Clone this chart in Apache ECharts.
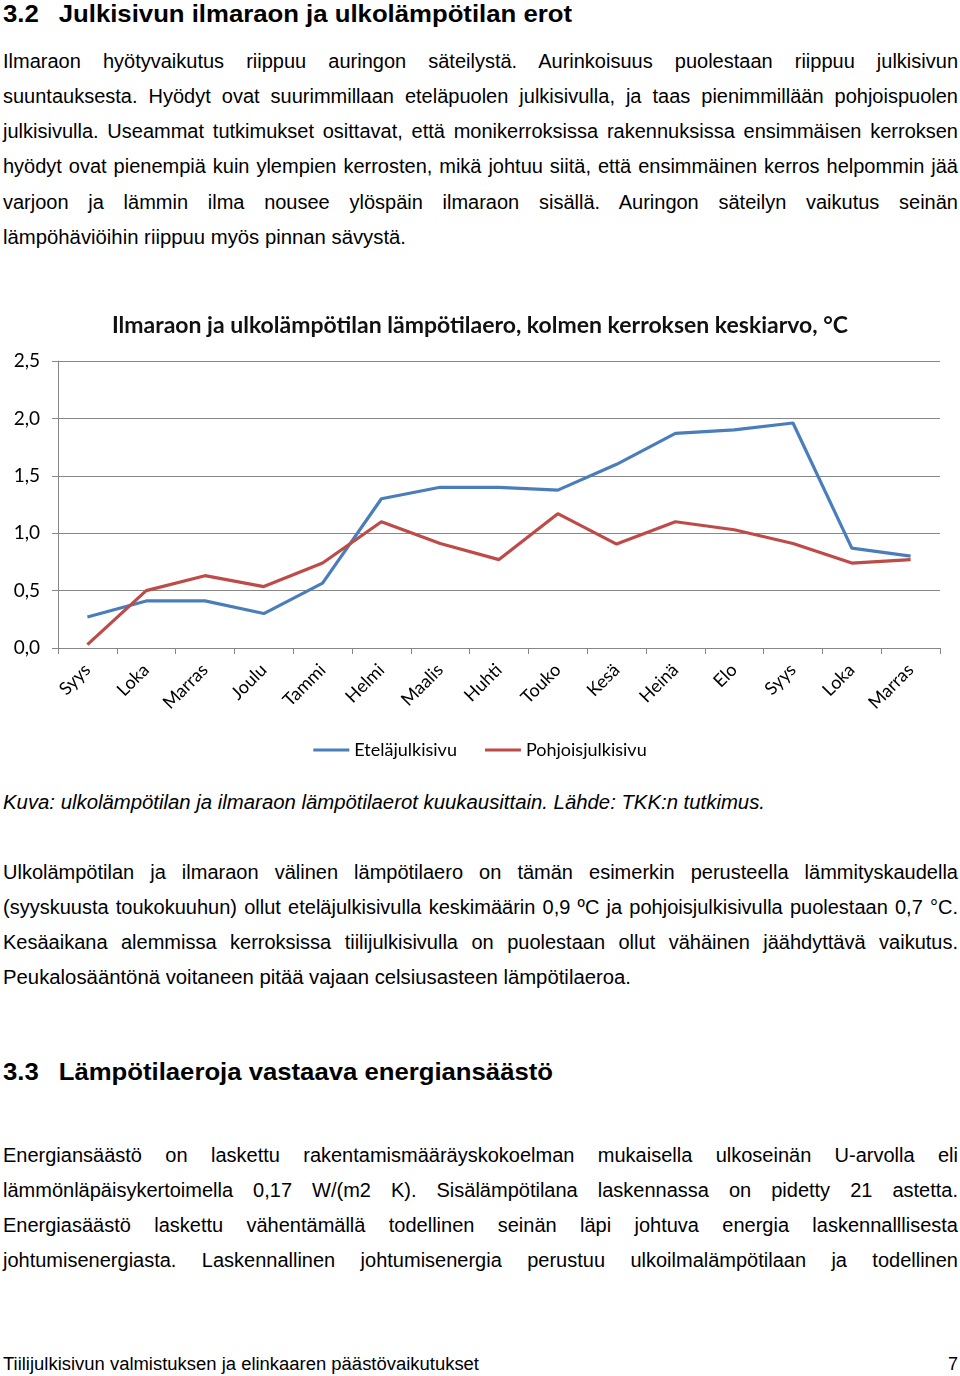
<!DOCTYPE html>
<html><head><meta charset="utf-8">
<script src="https://cdn.jsdelivr.net/npm/echarts@6/dist/echarts.min.js"></script>
<style>
html,body{margin:0;padding:0;background:#fff;}
body{width:960px;height:1376px;position:relative;overflow:hidden;font-family:"Liberation Sans",Arial,sans-serif;color:#000;}
.ln{position:absolute;left:3px;font-size:20px;line-height:24px;height:24px;white-space:nowrap;transform-origin:0 50%;}
.h{font-weight:bold;font-size:24px;line-height:28px;height:28px;}
.num{display:inline-block;width:52px;}
.it{font-style:italic;}
#chart{position:absolute;left:0;top:290px;width:960px;height:480px;}
</style></head>
<body>
<div class="ln h" data-m="fit" data-w="569" style="top:0px"><span class="num">3.2</span>Julkisivun ilmaraon ja ulkolämpötilan erot</div>

<div class="ln" data-m="j" data-w="955" style="top:49px">Ilmaraon hyötyvaikutus riippuu auringon säteilystä. Aurinkoisuus puolestaan riippuu julkisivun</div>
<div class="ln" data-m="j" data-w="955" style="top:84px">suuntauksesta. Hyödyt ovat suurimmillaan eteläpuolen julkisivulla, ja taas pienimmillään pohjoispuolen</div>
<div class="ln" data-m="j" data-w="955" style="top:119px">julkisivulla. Useammat tutkimukset osittavat, että monikerroksissa rakennuksissa ensimmäisen kerroksen</div>
<div class="ln" data-m="j" data-w="955" style="top:154px">hyödyt ovat pienempiä kuin ylempien kerrosten, mikä johtuu siitä, että ensimmäinen kerros helpommin jää</div>
<div class="ln" data-m="j" data-w="955" style="top:190px">varjoon ja lämmin ilma nousee ylöspäin ilmaraon sisällä. Auringon säteilyn vaikutus seinän</div>
<div class="ln" data-m="fit" data-w="403" style="top:225px">lämpöhäviöihin riippuu myös pinnan sävystä.</div>

<div id="chart"></div>

<div class="ln it" data-m="fit" data-w="762" style="top:790px">Kuva: ulkolämpötilan ja ilmaraon lämpötilaerot kuukausittain. Lähde: TKK:n tutkimus.</div>

<div class="ln" data-m="j" data-w="955" style="top:860px">Ulkolämpötilan ja ilmaraon välinen lämpötilaero on tämän esimerkin perusteella lämmityskaudella</div>
<div class="ln" data-m="j" data-w="955" style="top:895px">(syyskuusta toukokuuhun) ollut eteläjulkisivulla keskimäärin 0,9 ºC ja pohjoisjulkisivulla puolestaan 0,7 °C.</div>
<div class="ln" data-m="j" data-w="955" style="top:930px">Kesäaikana alemmissa kerroksissa tiilijulkisivulla on puolestaan ollut vähäinen jäähdyttävä vaikutus.</div>
<div class="ln" data-m="fit" data-w="628" style="top:965px">Peukalosääntönä voitaneen pitää vajaan celsiusasteen lämpötilaeroa.</div>

<div class="ln h" data-m="fit" data-w="550" style="top:1058px"><span class="num">3.3</span>Lämpötilaeroja vastaava energiansäästö</div>

<div class="ln" data-m="j" data-w="955" style="top:1143px">Energiansäästö on laskettu rakentamismääräyskokoelman mukaisella ulkoseinän U-arvolla eli</div>
<div class="ln" data-m="j" data-w="955" style="top:1178px">lämmönläpäisykertoimella 0,17 W/(m2 K). Sisälämpötilana laskennassa on pidetty 21 astetta.</div>
<div class="ln" data-m="j" data-w="955" style="top:1213px">Energiasäästö laskettu vähentämällä todellinen seinän läpi johtuva energia laskennalllisesta</div>
<div class="ln" data-m="j" data-w="955" style="top:1248px">johtumisenergiasta. Laskennallinen johtumisenergia perustuu ulkoilmalämpötilaan ja todellinen</div>

<div class="ln" data-m="fit" data-w="476" style="top:1352px;font-size:18px">Tiilijulkisivun valmistuksen ja elinkaaren päästövaikutukset</div>
<div class="ln" style="top:1352px;left:auto;right:2px;font-size:18px">7</div>

<script>
// ---- chart data ----
const categories = ['Syys','Loka','Marras','Joulu','Tammi','Helmi','Maalis','Huhti','Touko','Kesä','Heinä','Elo','Syys','Loka','Marras'];
const etelaValues = [0.27,0.41,0.41,0.30,0.565,1.30,1.40,1.40,1.375,1.60,1.87,1.90,1.96,0.87,0.80];
const pohjoisValues = [0.03,0.50,0.63,0.535,0.74,1.10,0.91,0.77,1.17,0.905,1.10,1.03,0.91,0.74,0.77];
const seriesNames = ['Eteläjulkisivu','Pohjoisjulkisivu'];
const chartTitle = 'Ilmaraon ja ulkolämpötilan lämpötilaero, kolmen kerroksen keskiarvo, °C';
const yMin = 0, yMax = 2.5, yInterval = 0.5;

// ---- text line fitting ----
document.querySelectorAll('.ln').forEach(el => {
  const target = parseFloat(el.dataset.w);
  if (!target) return;
  const w = el.getBoundingClientRect().width;
  if (el.dataset.m === 'j') {
    const spaces = (el.textContent.replace(/ +/g, ' ').trim().match(/[ \u00a0]/g) || []).length;
    if (w < target && spaces) {
      el.style.wordSpacing = ((target - w) / spaces) + 'px';
    } else if (w > target) {
      el.style.transform = 'scaleX(' + (target / w) + ')';
    }
  } else {
    el.style.transform = 'scaleX(' + (target / w) + ')';
  }
});

// ---- chart ----
const chart = echarts.init(document.getElementById('chart'), null, {renderer: 'canvas'});
const gridColor = '#878787';
const txt = '#000';
chart.setOption({
  animation: false,
  backgroundColor: '#fff',
  title: {
    text: chartTitle,
    left: 'center',
    top: 19,
    textStyle: {fontFamily: 'Lato', fontWeight: 'bold', fontSize: 23, color: '#111'}
  },
  legend: {
    data: seriesNames,
    top: 446,
    left: 'center',
    icon: 'rect',
    itemWidth: 36,
    itemHeight: 3,
    itemGap: 28,
    textStyle: {fontFamily: 'Lato', fontSize: 18, color: txt}
  },
  grid: {left: 58, right: 20, top: 71, bottom: 122, containLabel: false, outerBoundsMode: 'none'},
  xAxis: {
    type: 'category',
    data: categories,
    boundaryGap: true,
    axisLine: {lineStyle: {color: gridColor, width: 1}},
    axisTick: {show: true, length: 6, lineStyle: {color: gridColor}},
    axisLabel: {rotate: 45, interval: 0, margin: 19, fontFamily: 'Lato', fontSize: 18, color: txt}
  },
  yAxis: {
    type: 'value',
    min: yMin, max: yMax, interval: yInterval,
    axisLine: {show: true, lineStyle: {color: gridColor, width: 1}},
    axisTick: {show: true, length: 6, lineStyle: {color: gridColor}},
    splitLine: {show: true, lineStyle: {color: gridColor, width: 1}},
    axisLabel: {
      margin: 18, fontFamily: 'Lato', fontSize: 19, color: txt,
      formatter: v => v.toFixed(1).replace('.', ',')
    }
  },
  series: [
    {name: seriesNames[0], type: 'line', data: etelaValues, symbol: 'none', color: '#4a7ebb',
     lineStyle: {width: 3.2, color: '#4a7ebb'}},
    {name: seriesNames[1], type: 'line', data: pohjoisValues, symbol: 'none', color: '#be4b48',
     lineStyle: {width: 3.2, color: '#be4b48'}}
  ]
});
</script>
</body></html>
